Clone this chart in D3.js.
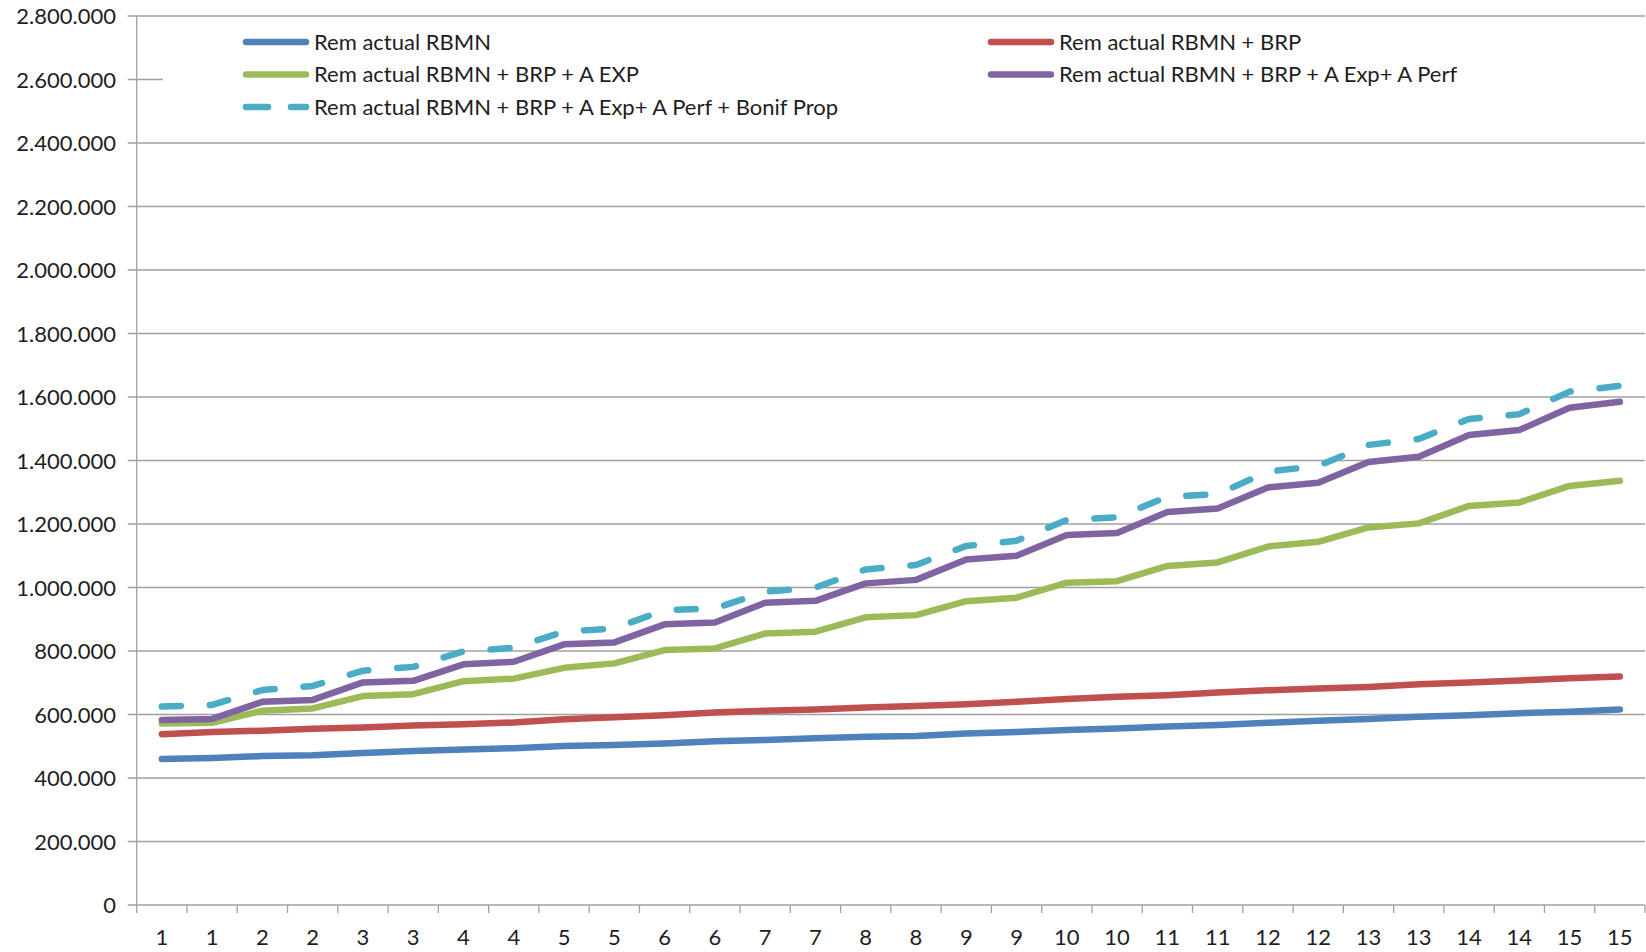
<!DOCTYPE html>
<html>
<head>
<meta charset="utf-8">
<script src="https://cdn.jsdelivr.net/npm/d3@7"></script>
<style>
  html, body { margin: 0; padding: 0; background: #fff; }
  svg text { font-family: Lato, "Open Sans", "Liberation Sans", sans-serif; fill: #1e1e1e; }
</style>
</head>
<body>
<svg id="chart" width="1646" height="952"></svg>
<script>
// Category labels along the x axis (two periods per step)
const categories = ["1","1","2","2","3","3","4","4","5","5","6","6","7","7","8","8",
                    "9","9","10","10","11","11","12","12","13","13","14","14","15","15"];

// Series values
const remActual = [460000,463000,469000,472000,479000,485000,490000,494000,501000,504000,
                   509000,516000,520000,525000,530000,532000,540000,545000,551000,556000,
                   562000,567000,574000,580000,586000,593000,598000,604000,609000,616000];
const remBrp = [538000,545000,549000,555000,559000,565000,569000,575000,585000,591000,
                598000,606000,612000,616000,622000,627000,632000,640000,649000,656000,
                661000,669000,676000,682000,687000,695000,701000,707000,714000,720000];
const remBrpExp = [572000,574000,612000,619000,658000,664000,705000,713000,747000,761000,
                   803000,808000,855000,861000,906000,913000,957000,968000,1015000,1020000,
                   1068000,1079000,1129000,1144000,1189000,1202000,1257000,1268000,1320000,1336000];
const remBrpExpPerf = [583000,586000,640000,646000,701000,706000,758000,766000,821000,827000,
                       884000,890000,952000,958000,1013000,1024000,1088000,1100000,1165000,1172000,
                       1238000,1249000,1315000,1330000,1395000,1412000,1480000,1496000,1566000,1585000];
const remBrpExpPerfBonif = [625000,630000,677000,690000,738000,750000,799000,810000,861000,871000,
                            929000,934000,987000,1000000,1057000,1071000,1131000,1147000,1213000,1221000,
                            1286000,1294000,1365000,1383000,1449000,1468000,1531000,1546000,1617000,1635000];

const seriesNames = ["Rem actual RBMN",
                     "Rem actual RBMN + BRP",
                     "Rem actual RBMN + BRP + A EXP",
                     "Rem actual RBMN + BRP + A Exp+ A Perf",
                     "Rem actual RBMN + BRP + A Exp+ A Perf + Bonif Prop"];
const seriesColors = ["#4F81BD", "#C0504D", "#9BBB59", "#8064A2", "#4BACC6"];
const seriesDashed = [false, false, false, false, true];
const seriesValues = [remActual, remBrp, remBrpExp, remBrpExpPerf, remBrpExpPerfBonif];

// Y axis tick values
const yTicks = [0,200000,400000,600000,800000,1000000,1200000,1400000,
                1600000,1800000,2000000,2200000,2400000,2600000,2800000];

const svg = d3.select("#chart");
const plotLeft = 136.7, plotRight = 1645, plotTop = 16, plotBottom = 905;
const gridColor = "#a0a0a0";
const fontSize = 22;

const x = d3.scaleBand().domain(d3.range(categories.length)).range([plotLeft, plotRight]).padding(0);
const y = d3.scaleLinear().domain([0, 2800000]).range([plotBottom, plotTop]);
const cx = i => x(i) + x.bandwidth() / 2;

const locale = d3.formatLocale({ decimal: ",", thousands: ".", grouping: [3], currency: ["", "€"] });
const fmt = locale.format(",.0f");

// Horizontal gridlines (with outside tick stubs)
svg.append("g").selectAll("line").data(yTicks).join("line")
  .attr("x1", plotLeft - 9).attr("x2", plotRight)
  .attr("y1", d => y(d)).attr("y2", d => y(d))
  .attr("stroke", gridColor).attr("stroke-width", 1.3);

// Y axis labels via d3 axis
const yAxis = d3.axisLeft(y).tickValues(yTicks).tickFormat(fmt).tickSize(0).tickPadding(0);
const gy = svg.append("g").attr("transform", `translate(116,0)`).call(yAxis);
gy.select(".domain").remove();
gy.selectAll("text").attr("font-size", fontSize).attr("dy", "0.36em")
  .style("font-family", "Lato, 'Open Sans', sans-serif").attr("fill", "#1e1e1e");

// Y axis line
svg.append("line").attr("x1", plotLeft).attr("x2", plotLeft).attr("y1", plotTop).attr("y2", plotBottom)
  .attr("stroke", gridColor).attr("stroke-width", 1.3);

// X axis boundary ticks
const bounds = d3.range(categories.length + 1).map(i => plotLeft + i * x.bandwidth());
svg.append("g").selectAll("line").data(bounds).join("line")
  .attr("x1", d => d).attr("x2", d => d).attr("y1", plotBottom).attr("y2", plotBottom + 8)
  .attr("stroke", gridColor).attr("stroke-width", 1.3);

// X axis labels
const xAxis = d3.axisBottom(x).tickFormat(i => categories[i]).tickSize(0).tickPadding(0);
const gx = svg.append("g").attr("transform", `translate(0,${plotBottom})`).call(xAxis);
gx.select(".domain").remove();
gx.selectAll("text").attr("font-size", fontSize).attr("dy", null).attr("y", 40)
  .style("font-family", "Lato, 'Open Sans', sans-serif").attr("fill", "#1e1e1e");

// Legend background (covers part of the grid)
svg.append("rect").attr("x", 163).attr("y", 22).attr("width", 1646 - 163).attr("height", 106)
  .attr("fill", "#fff");

// Series lines
const line = d3.line().x((d, i) => cx(i)).y(d => y(d));
seriesValues.forEach((vals, k) => {
  svg.append("path").datum(vals)
    .attr("d", line)
    .attr("fill", "none")
    .attr("stroke", seriesColors[k])
    .attr("stroke-width", 6.5)
    .attr("stroke-linecap", "round")
    .attr("stroke-linejoin", "round")
    .attr("stroke-dasharray", seriesDashed[k] ? "19,29" : null);
});

// Legend
const legendPos = [
  { lx: 246, ty: 42 }, { lx: 991, ty: 42 },
  { lx: 246, ty: 74.5 }, { lx: 991, ty: 74.5 },
  { lx: 246, ty: 107 }
];
const legend = svg.append("g");
seriesNames.forEach((name, k) => {
  const p = legendPos[k];
  legend.append("line")
    .attr("x1", p.lx).attr("x2", p.lx + 60)
    .attr("y1", p.ty).attr("y2", p.ty)
    .attr("stroke", seriesColors[k]).attr("stroke-width", 6.5)
    .attr("stroke-linecap", "round")
    .attr("stroke-dasharray", seriesDashed[k] ? "22,23" : null);
  legend.append("text")
    .attr("x", p.lx + 68).attr("y", p.ty).attr("dy", "0.36em")
    .attr("font-size", fontSize).text(name);
});
</script>
</body>
</html>
